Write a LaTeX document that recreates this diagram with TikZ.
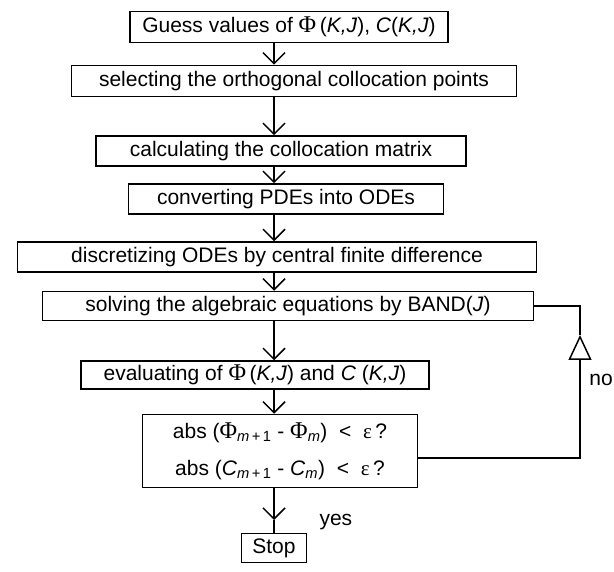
\documentclass[tikz,border=0pt]{standalone}
\usepackage{amsmath, amssymb}
\usepackage{fontspec}
\setmainfont{Liberation Sans}
\newfontfamily\greekfont{Liberation Serif}
\usepackage{tikz}
\usetikzlibrary{arrows.meta}

\newcommand{\Phig}{{\greekfont\fontsize{24}{25}\selectfont Φ}}
\newcommand{\epsg}{{\greekfont ε}}

\begin{document}
\begin{tikzpicture}[
    x=1pt, y=-1pt,
    font=\fontsize{21}{25}\selectfont,
    procbox/.style={rectangle, draw, line width=1.5pt, inner sep=0pt, align=center},
    flow/.style={line width=1.5pt, -{Straight Barb[length=11pt, width=22pt, line width=1.5pt]}},
    backflow/.style={line width=1.5pt, -{Triangle[open, length=25pt, width=23pt, line width=1.5pt]}},
    plain/.style={line width=1.5pt}
]
\useasboundingbox (0,0) rectangle (614,572);

% Steps of the scheme
\node[procbox, minimum width=318pt, minimum height=31pt] (guess) at (289,27) {Guess values of \Phig\,(\textit{K,J}), \textit{C}(\textit{K,J})};
\node[procbox, minimum width=445pt, minimum height=31pt] (select) at (294,81) {selecting the orthogonal collocation points};
\node[procbox, minimum width=370pt, minimum height=30pt] (colmat) at (281,151) {calculating the collocation matrix};
\node[procbox, minimum width=315pt, minimum height=30pt] (convert) at (286,199) {converting PDEs into ODEs};
\node[procbox, minimum width=519pt, minimum height=30pt] (discret) at (277,257) {discretizing ODEs by central finite difference};
\node[procbox, minimum width=491pt, minimum height=29pt] (solve) at (288,306) {solving the algebraic equations by BAND(\textit{J})};
\node[procbox, minimum width=348pt, minimum height=28pt] (evaluate) at (255,375) {evaluating of \Phig\,(\textit{K,J}) and \textit{C} (\textit{K,J})};
\node[procbox, minimum width=275pt, minimum height=73pt] (check) at (280,451) {abs (\Phig\textsubscript{\textit{m}\,+\,1} - \Phig\textsubscript{\textit{m}})\ \ <\ \ \epsg\,?\\[12pt]abs (\textit{C}\textsubscript{\textit{m}\,+\,1} - \textit{C}\textsubscript{\textit{m}})\ \ <\ \ \epsg\,?};
\node[procbox, minimum width=65pt, minimum height=29pt] (stop) at (274,548) {Stop};

% Helper points
\coordinate (colx) at (274,0);
\coordinate (yesmid) at (274,520);
\coordinate (nomid) at (580,335);

% Main column
\draw[flow] (guess.south -| colx) -- (select.north -| colx);
\draw[flow] (select.south -| colx) -- (colmat.north -| colx);
\draw[flow] (colmat.south -| colx) -- (convert.north -| colx);
\draw[flow] (convert.south -| colx) -- (discret.north -| colx);
\draw[flow] (discret.south -| colx) -- (solve.north -| colx);
\draw[flow] (solve.south -| colx) -- (evaluate.north -| colx);
\draw[flow] (evaluate.south -| colx) -- (check.north -| colx);
\draw[flow] (check.south -| colx) -- (yesmid);
\draw[plain] (yesmid) -- (stop.north);

% Loop back
\draw[backflow] ([yshift=-7pt]check.east) -| (nomid);
\draw[plain] (nomid) |- (solve.east);

% Labels
\node[anchor=west] (yes) at (316,522) {yes};
\node[anchor=east, inner sep=1pt] (no) at (614,380) {no};

\end{tikzpicture}
\end{document}
